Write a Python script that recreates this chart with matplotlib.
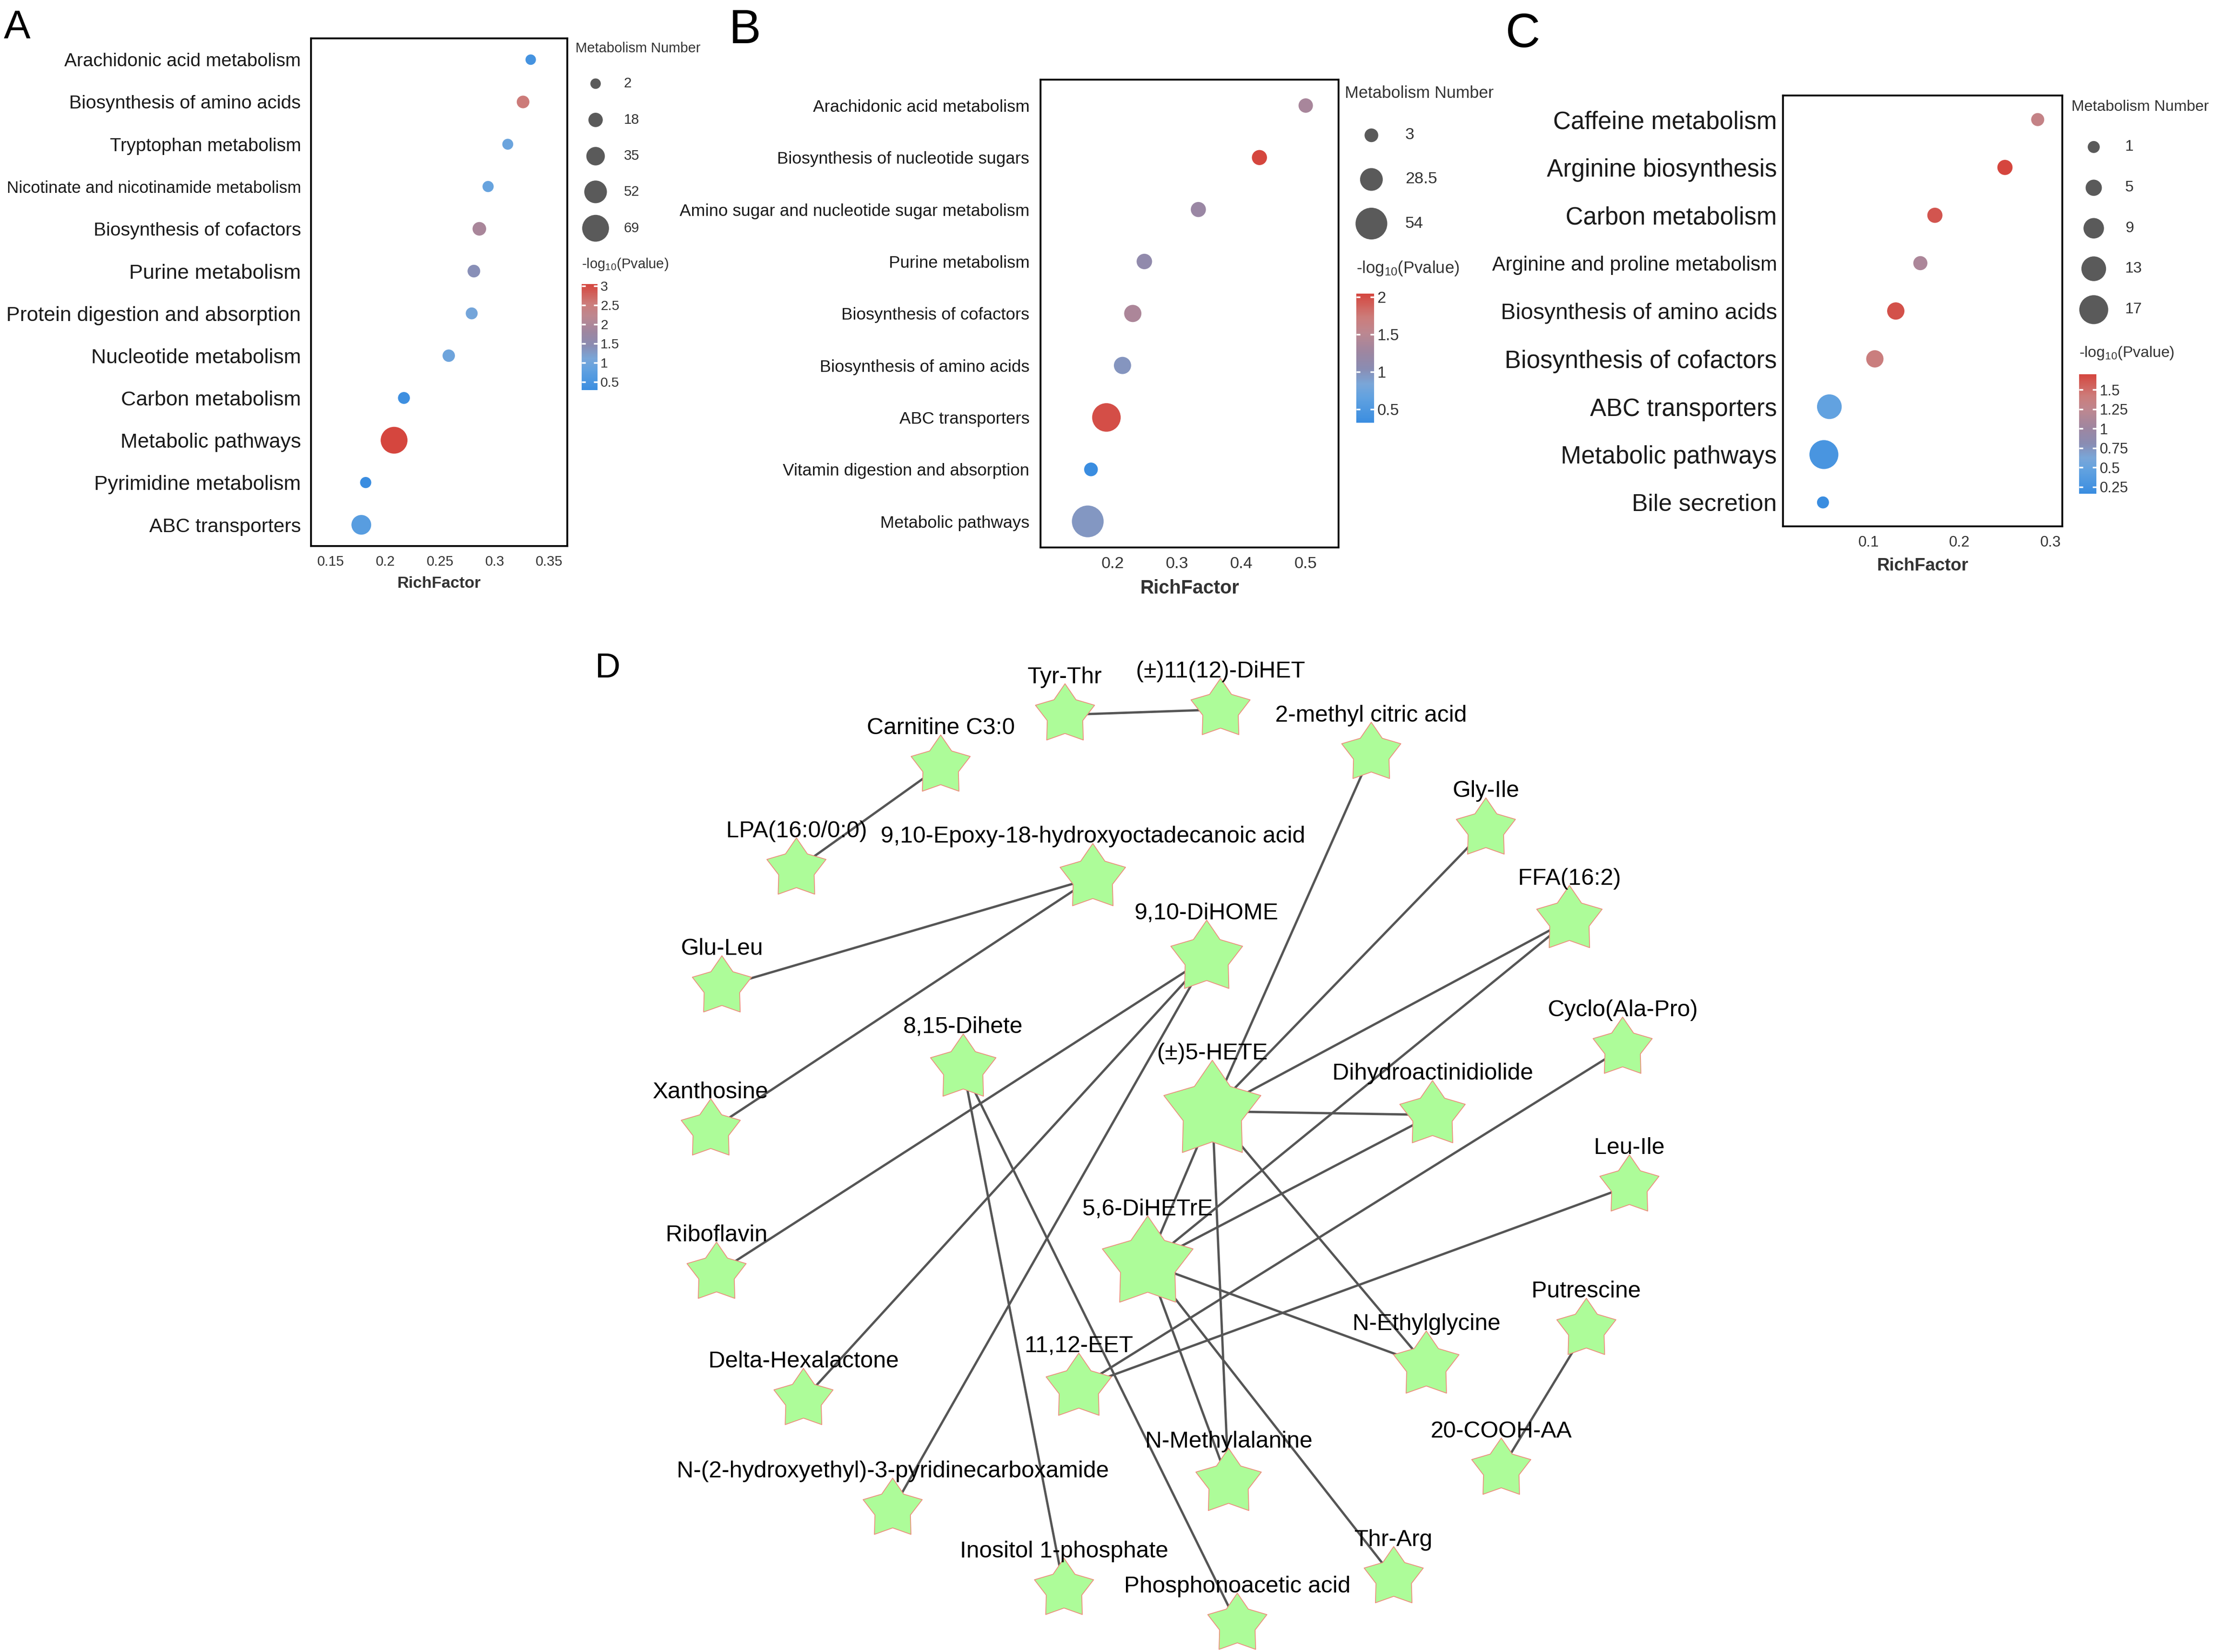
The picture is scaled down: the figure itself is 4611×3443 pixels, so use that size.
import matplotlib
matplotlib.use("Agg")
import matplotlib.pyplot as plt
from matplotlib.colors import LinearSegmentedColormap, Normalize
from matplotlib.cm import ScalarMappable
from matplotlib.path import Path

plt.rcParams['font.family'] = ['Liberation Sans', 'DejaVu Sans']
plt.rcParams['mathtext.fontset'] = 'custom'
plt.rcParams['mathtext.rm'] = 'Liberation Sans'
plt.rcParams['mathtext.it'] = 'Liberation Sans:italic'

# ---------------- data ----------------
# A
a_terms = ["Arachidonic acid metabolism", "Biosynthesis of amino acids", "Tryptophan metabolism",
           "Nicotinate and nicotinamide metabolism", "Biosynthesis of cofactors", "Purine metabolism",
           "Protein digestion and absorption", "Nucleotide metabolism", "Carbon metabolism",
           "Metabolic pathways", "Pyrimidine metabolism", "ABC transporters"]
a_rich = [0.333, 0.326, 0.312, 0.294, 0.286, 0.281, 0.279, 0.258, 0.217, 0.208, 0.182, 0.178]
a_count = [2, 11, 4, 5, 15, 11, 8, 10, 8, 69, 5, 40]
a_logp = [0.45, 2.55, 0.95, 0.9, 1.95, 1.4, 1.05, 0.98, 0.35, 3.04, 0.29, 0.7]
a_size_breaks = [2, 18, 35, 52, 69]
a_xticks = [0.15, 0.2, 0.25, 0.3, 0.35]
a_cticks = [0.5, 1, 1.5, 2, 2.5, 3]

# B
b_terms = ["Arachidonic acid metabolism", "Biosynthesis of nucleotide sugars",
           "Amino sugar and nucleotide sugar metabolism", "Purine metabolism",
           "Biosynthesis of cofactors", "Biosynthesis of amino acids", "ABC transporters",
           "Vitamin digestion and absorption", "Metabolic pathways"]
b_rich = [0.500, 0.428, 0.333, 0.249, 0.231, 0.215, 0.190, 0.166, 0.161]
b_count = [5, 7, 7, 8, 13, 13, 45, 3, 54]
b_logp = [1.36, 2.05, 1.22, 1.12, 1.39, 0.98, 2.0, 0.32, 0.96]
b_size_breaks = [3, 28.5, 54]
b_xticks = [0.2, 0.3, 0.4, 0.5]
b_cticks = [0.5, 1, 1.5, 2]

# C
c_terms = ["Caffeine metabolism", "Arginine biosynthesis", "Carbon metabolism",
           "Arginine and proline metabolism", "Biosynthesis of amino acids",
           "Biosynthesis of cofactors", "ABC transporters", "Metabolic pathways", "Bile secretion"]
c_rich = [0.286, 0.250, 0.173, 0.157, 0.130, 0.107, 0.057, 0.051, 0.050]
c_count = [2, 4, 4, 3, 6, 6, 13, 17, 1]
c_logp = [1.32, 1.70, 1.62, 1.11, 1.64, 1.39, 0.47, 0.28, 0.16]
c_size_breaks = [1, 5, 9, 13, 17]
c_xticks = [0.1, 0.2, 0.3]
c_cticks = [0.25, 0.5, 0.75, 1, 1.25, 1.5]

# D  (network layout, reference px at 1568 x 1171 scale)
d_nodes = ["Tyr-Thr", "(±)11(12)-DiHET", "Carnitine C3:0", "2-methyl citric acid", "LPA(16:0/0:0)",
           "9,10-Epoxy-18-hydroxyoctadecanoic acid", "Gly-Ile", "FFA(16:2)", "Glu-Leu", "9,10-DiHOME",
           "Cyclo(Ala-Pro)", "8,15-Dihete", "Xanthosine", "(±)5-HETE", "Dihydroactinidiolide",
           "Leu-Ile", "5,6-DiHETrE", "Riboflavin", "Putrescine", "N-Ethylglycine",
           "Delta-Hexalactone", "11,12-EET", "N-Methylalanine", "20-COOH-AA",
           "N-(2-hydroxyethyl)-3-pyridinecarboxamide", "Thr-Arg", "Inositol 1-phosphate",
           "Phosphonoacetic acid"]
d_x = [754.6, 864.8, 666.5, 971.6, 564.3, 774.3, 1052.8, 1112.0, 511.5, 855.0,
       1149.7, 682.5, 503.6, 859.0, 1015.0, 1154.5, 813.2, 507.7, 1124.0, 1010.6,
       569.3, 764.4, 870.5, 1063.7, 632.5, 987.5, 753.9, 876.7]
d_y = [506.7, 502.9, 543.0, 534.0, 616.0, 622.3, 587.6, 652.0, 699.5, 679.0,
       743.0, 757.3, 800.9, 787.7, 790.3, 840.6, 895.7, 902.5, 942.3, 967.8,
       992.0, 983.5, 1051.0, 1041.4, 1069.8, 1118.3, 1126.6, 1151.3]
d_edges = [
    ("Tyr-Thr", "(±)11(12)-DiHET"),
    ("Carnitine C3:0", "LPA(16:0/0:0)"),
    ("9,10-Epoxy-18-hydroxyoctadecanoic acid", "Glu-Leu"),
    ("9,10-Epoxy-18-hydroxyoctadecanoic acid", "Xanthosine"),
    ("9,10-DiHOME", "Riboflavin"),
    ("9,10-DiHOME", "Delta-Hexalactone"),
    ("9,10-DiHOME", "N-(2-hydroxyethyl)-3-pyridinecarboxamide"),
    ("8,15-Dihete", "Inositol 1-phosphate"),
    ("8,15-Dihete", "Phosphonoacetic acid"),
    ("2-methyl citric acid", "(±)5-HETE"),
    ("Gly-Ile", "(±)5-HETE"),
    ("FFA(16:2)", "(±)5-HETE"),
    ("FFA(16:2)", "5,6-DiHETrE"),
    ("(±)5-HETE", "Dihydroactinidiolide"),
    ("(±)5-HETE", "5,6-DiHETrE"),
    ("(±)5-HETE", "N-Methylalanine"),
    ("(±)5-HETE", "N-Ethylglycine"),
    ("5,6-DiHETrE", "Dihydroactinidiolide"),
    ("5,6-DiHETrE", "N-Ethylglycine"),
    ("5,6-DiHETrE", "N-Methylalanine"),
    ("5,6-DiHETrE", "Thr-Arg"),
    ("Cyclo(Ala-Pro)", "11,12-EET"),
    ("Leu-Ile", "11,12-EET"),
    ("Putrescine", "20-COOH-AA"),
]

# ---------------- styles ----------------
W, H = 1568, 1171                 # layout units of the reference
PT = 4611 / W * 72 / 300          # points per layout unit
cmap = LinearSegmentedColormap.from_list("rb", [
    (0.0, "#3a8de0"), (0.2, "#62a2e0"), (0.3, "#7aa6d8"), (0.42, "#8a8cb2"),
    (0.55, "#9e86a0"), (0.7, "#bd8790"), (0.82, "#cc7c7a"), (1.0, "#d5463e")])
a_label_fs = [9.3, 9.4, 9.2, 8.3, 9.4, 10.4, 10.3, 10.4, 10.4, 10.3, 10.3, 9.9]
b_label_fs = [8.5] * 9
c_label_fs = [12.3, 12.2, 12.2, 10.0, 11.2, 12.3, 12.2, 12.3, 12.1]


def rect(x0, y0, x1, y1):
    return [x0 / W, 1 - y1 / H, (x1 - x0) / W, (y1 - y0) / H]


fig = plt.figure(figsize=(4611 / 300, 3443 / 300), dpi=300)
net = fig.add_axes([0, 0, 1, 1])
net.set_xlim(0, W)
net.set_ylim(H, 0)
net.axis("off")


def bubble_panel(box, terms, rich, count, logp, xlim, xticks, label_fs, ypad,
                 drange, breaks, cbox, cticks, fs):
    n = len(terms)
    cmin, cmax = min(breaks), max(breaks)

    def msize(v):
        d = drange[0] + (drange[1] - drange[0]) * (v - cmin) / (cmax - cmin)
        return (d * PT) ** 2

    norm = Normalize(min(logp), max(logp))
    ax = fig.add_axes(rect(*box))
    ax.scatter(rich, range(n), s=[msize(v) for v in count], c=logp, cmap=cmap,
               norm=norm, linewidths=0, zorder=3)
    ax.set_xlim(*xlim)
    ax.set_ylim(n - 0.5, -0.5)
    ax.set_yticks(range(n))
    ax.set_yticklabels(terms, color="#1a1a1a")
    for lab, f in zip(ax.get_yticklabels(), label_fs):
        lab.set_fontsize(f)
    ax.set_xticks(xticks)
    ax.set_xticklabels(["%g" % t for t in xticks], fontsize=fs["tick"], color="#333333")
    ax.tick_params(axis="both", length=0)
    ax.tick_params(axis="y", pad=ypad)
    ax.tick_params(axis="x", pad=4.5)
    ax.set_xlabel("RichFactor", fontsize=fs["xlab"], fontweight="bold", color="#333333",
                  labelpad=4)
    for sp in ax.spines.values():
        sp.set_linewidth(0.9)
        sp.set_color("black")

    # size legend
    lx, ly, dx, dys, tx = fs["leg"]
    net.text(lx, ly, "Metabolism Number", fontsize=fs["legt"], color="#333333",
             ha="left", va="center")
    net.scatter([dx] * len(breaks), dys, s=[msize(v) for v in breaks], color="#5a5a5a",
                linewidths=0)
    for v, yy in zip(breaks, dys):
        net.text(tx, yy, "%g" % v, fontsize=fs["legn"], color="#333333", ha="left",
                 va="center")

    # colour bar
    cx0, cy0, cx1, cy1 = cbox
    net.text(cx0, fs["ctitle_y"], r"-log$_{10}$(Pvalue)", fontsize=fs["legt"],
             color="#333333", ha="left", va="baseline")
    cax = fig.add_axes(rect(cx0, cy0, cx1, cy1))
    cb = fig.colorbar(ScalarMappable(norm=norm, cmap=cmap), cax=cax)
    cb.outline.set_visible(False)
    cb.set_ticks(cticks)
    cb.set_ticklabels(["%g" % t for t in cticks])
    cax.yaxis.set_ticks_position("both")
    cax.tick_params(axis="y", direction="in", color="white", length=2.0, width=0.8,
                    labelsize=fs["cnum"], labelcolor="#333333", pad=1.5,
                    left=True, right=True, labelleft=False, labelright=True)
    return ax


bubble_panel((220.3, 27.3, 401.9, 387.0), a_terms, a_rich, a_count, a_logp,
             (0.1319, 0.3664), a_xticks, a_label_fs, 5.0, (7.4, 19.0), a_size_breaks,
             (412.3, 201.5, 423.4, 276.6), a_cticks,
             dict(tick=7, xlab=8, legt=7, legn=7, cnum=6.8, ctitle_y=190.0,
                  leg=(407.7, 34.2, 422.0, [59.3, 85.0, 110.7, 136.0, 161.8], 442.0)))

bubble_panel((737.2, 56.4, 948.4, 388.0), b_terms, b_rich, b_count, b_logp,
             (0.0874, 0.551), b_xticks, b_label_fs, 5.5, (9.7, 22.5), b_size_breaks,
             (961.0, 208.0, 973.7, 299.8), b_cticks,
             dict(tick=8.2, xlab=9.5, legt=8.3, legn=8.2, cnum=7.9, ctitle_y=193.5,
                  leg=(952.7, 66.3, 971.7, [95.9, 127.2, 158.5], 995.7)))

bubble_panel((1263.3, 67.8, 1461.2, 373.1), c_terms, c_rich, c_count, c_logp,
             (0.006, 0.313), c_xticks, c_label_fs, 3.0, (8.5, 20.5), c_size_breaks,
             (1473.0, 265.2, 1485.5, 350.0), c_cticks,
             dict(tick=7.5, xlab=8.8, legt=7.7, legn=7.7, cnum=7.4, ctitle_y=253.1,
                  leg=(1467.7, 75.7, 1483.5, [104.2, 133.1, 161.8, 190.5, 219.5], 1505.8)))

# ---------------- D: network ----------------
pos = {n: (x, y) for n, x, y in zip(d_nodes, d_x, d_y)}
deg = {n: 0 for n in d_nodes}
for a, b in d_edges:
    deg[a] += 1
    deg[b] += 1
radius = {n: 19.7 + 2.35 * deg[n] for n in d_nodes}

for a, b in d_edges:
    net.plot([pos[a][0], pos[b][0]], [pos[a][1], pos[b][1]], color="#555555",
             lw=1.15, zorder=1, solid_capstyle="butt")

star = Path.unit_regular_star(5, innerCircle=0.6)
net.scatter(d_x, d_y, s=[(2 * radius[n] * PT) ** 2 for n in d_nodes], marker=star,
            facecolor="#adfc99", edgecolor="#ee8a7a", linewidths=0.4, zorder=2)
for n in d_nodes:
    net.text(pos[n][0], pos[n][1] - radius[n] - 0.5, n, fontsize=11.6, color="black",
             ha="center", va="baseline", zorder=3)

# panel letters
for letter, x, y, f in [("A", 2.6, 27.3, 20), ("B", 516.5, 30.5, 24),
                        ("C", 1066.6, 33.4, 24), ("D", 421.7, 480.2, 17.6)]:
    net.text(x, y, letter, fontsize=f, color="black", ha="left", va="baseline")

fig.savefig("out.png", dpi=300, facecolor="white")
